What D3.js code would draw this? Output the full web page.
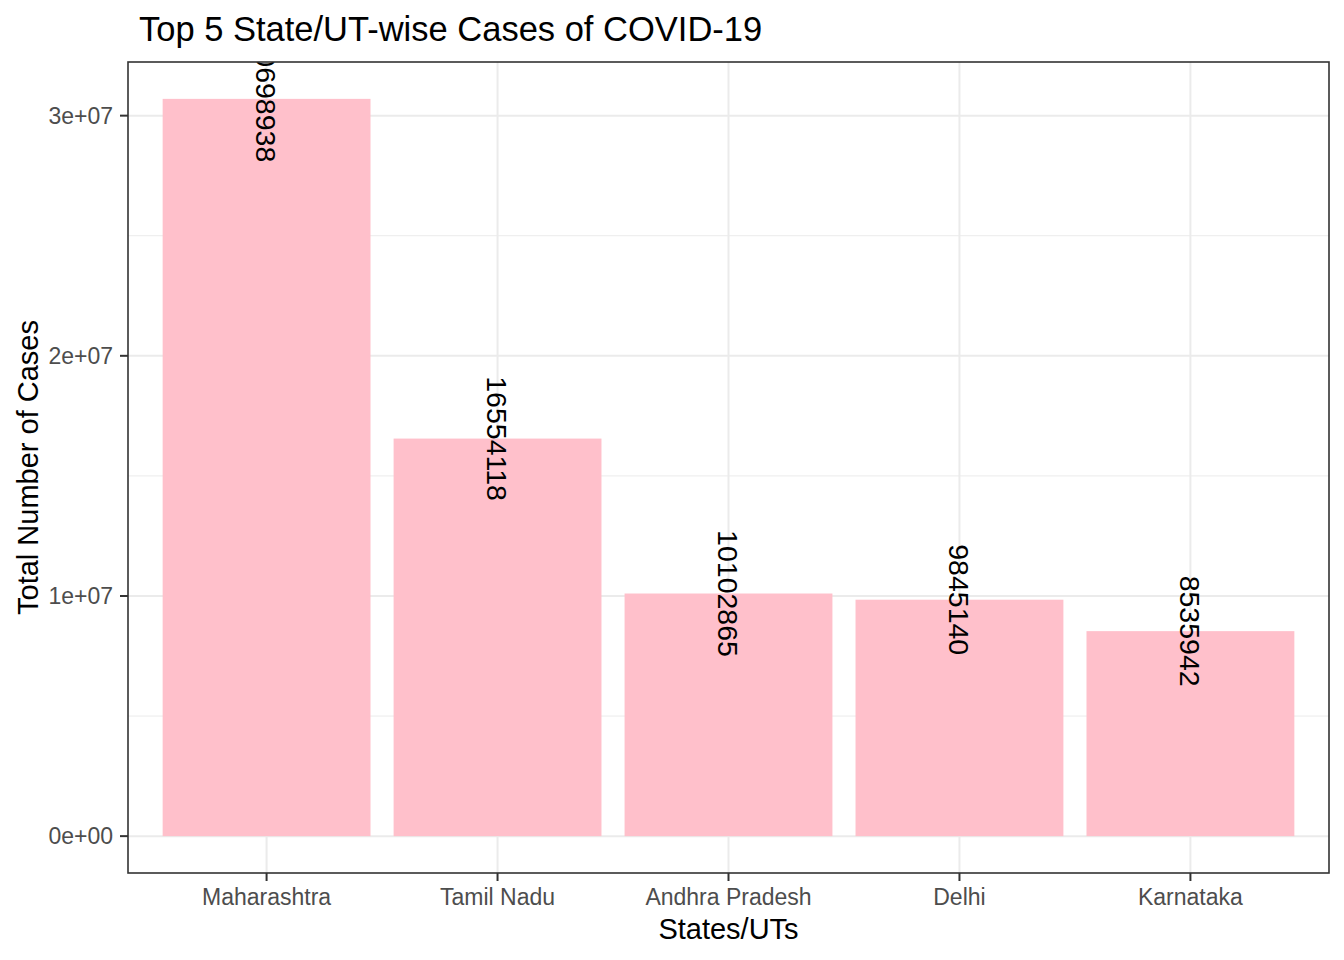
<!DOCTYPE html>
<meta charset="utf-8">
<script src="https://d3js.org/d3.v7.min.js"></script>
<style>
  body { margin: 0; background: #fff; font-family: "Liberation Sans", Arial, sans-serif; }
</style>
<div id="chart"></div>
<script>
// data
var states = ["Maharashtra", "Tamil Nadu", "Andhra Pradesh", "Delhi", "Karnataka"];
var cases = [30698938, 16554118, 10102865, 9845140, 8535942];
var yTicks = [0, 1e7, 2e7, 3e7];
var yTickLabels = ["0e+00", "1e+07", "2e+07", "3e+07"];
var yMinor = [0.5e7, 1.5e7, 2.5e7];

var W = 1344, H = 960;
var panel = {left: 128, right: 1329, top: 62, bottom: 873};

var svg = d3.select("#chart").append("svg")
  .attr("width", W).attr("height", H);

// ggplot style expansion: 5% on continuous, 0.6 units on discrete
var maxV = d3.max(cases);
var y = d3.scaleLinear()
  .domain([-0.05 * maxV, maxV * 1.05])
  .range([panel.bottom, panel.top]);

var x = d3.scaleBand()
  .domain(states)
  .range([panel.left, panel.right])
  .paddingInner(0.1)
  .paddingOuter(0.1 / 2 + 0.55);

// make outer padding match discrete expansion of 0.6
var step = (panel.right - panel.left) / (states.length - 1 + 1.2);
x.range([panel.left + 0.6 * step - step / 2, panel.right - 0.6 * step + step / 2])
  .paddingInner(0.1).paddingOuter(0.05);

svg.append("defs").append("clipPath").attr("id", "clip")
  .append("rect")
  .attr("x", panel.left).attr("y", panel.top)
  .attr("width", panel.right - panel.left)
  .attr("height", panel.bottom - panel.top);

var g = svg.append("g").attr("clip-path", "url(#clip)");

// minor grid
g.selectAll(".minor").data(yMinor).enter().append("line")
  .attr("x1", panel.left).attr("x2", panel.right)
  .attr("y1", function(d){ return y(d); }).attr("y2", function(d){ return y(d); })
  .attr("stroke", "#EBEBEB").attr("stroke-width", 1);

// major grid
g.selectAll(".major").data(yTicks).enter().append("line")
  .attr("x1", panel.left).attr("x2", panel.right)
  .attr("y1", function(d){ return y(d); }).attr("y2", function(d){ return y(d); })
  .attr("stroke", "#EBEBEB").attr("stroke-width", 2);

g.selectAll(".vmajor").data(states).enter().append("line")
  .attr("y1", panel.top).attr("y2", panel.bottom)
  .attr("x1", function(d){ return x(d) + x.bandwidth() / 2; })
  .attr("x2", function(d){ return x(d) + x.bandwidth() / 2; })
  .attr("stroke", "#EBEBEB").attr("stroke-width", 2);

// bars
g.selectAll(".bar").data(states).enter().append("rect")
  .attr("x", function(d){ return x(d); })
  .attr("width", x.bandwidth())
  .attr("y", function(d, i){ return y(cases[i]); })
  .attr("height", function(d, i){ return y(0) - y(cases[i]); })
  .attr("fill", "#FFC0CB");

// value labels, rotated, centred on bar top
g.selectAll(".lbl").data(states).enter().append("text")
  .attr("transform", function(d, i){
    return "translate(" + (x(d) + x.bandwidth() / 2) + "," + y(cases[i]) + ")rotate(90)";
  })
  .attr("text-anchor", "middle")
  .attr("dy", "0.36em")
  .style("font-size", "28.5px")
  .attr("fill", "#000")
  .text(function(d, i){ return cases[i]; });

// panel border
svg.append("rect")
  .attr("x", panel.left).attr("y", panel.top)
  .attr("width", panel.right - panel.left)
  .attr("height", panel.bottom - panel.top)
  .attr("fill", "none").attr("stroke", "#333333").attr("stroke-width", 1.6);

// y axis ticks + labels
var yAxis = svg.append("g");
yAxis.selectAll("line").data(yTicks).enter().append("line")
  .attr("x1", panel.left - 8).attr("x2", panel.left)
  .attr("y1", function(d){ return y(d); }).attr("y2", function(d){ return y(d); })
  .attr("stroke", "#333333").attr("stroke-width", 2);
yAxis.selectAll("text").data(yTicks).enter().append("text")
  .attr("x", panel.left - 15)
  .attr("y", function(d){ return y(d); })
  .attr("dy", "0.35em")
  .attr("text-anchor", "end")
  .style("font-size", "23px")
  .attr("fill", "#4D4D4D")
  .text(function(d, i){ return yTickLabels[i]; });

// x axis ticks + labels
var xAxis = svg.append("g");
xAxis.selectAll("line").data(states).enter().append("line")
  .attr("y1", panel.bottom).attr("y2", panel.bottom + 8)
  .attr("x1", function(d){ return x(d) + x.bandwidth() / 2; })
  .attr("x2", function(d){ return x(d) + x.bandwidth() / 2; })
  .attr("stroke", "#333333").attr("stroke-width", 2);
xAxis.selectAll("text").data(states).enter().append("text")
  .attr("x", function(d){ return x(d) + x.bandwidth() / 2; })
  .attr("y", 905)
  .attr("text-anchor", "middle")
  .style("font-size", "23px")
  .attr("fill", "#4D4D4D")
  .text(function(d){ return d; });

// axis titles
svg.append("text")
  .attr("x", (panel.left + panel.right) / 2).attr("y", 939)
  .attr("text-anchor", "middle")
  .style("font-size", "29px")
  .text("States/UTs");

svg.append("text")
  .attr("transform", "translate(38," + ((panel.top + panel.bottom) / 2) + ")rotate(-90)")
  .attr("text-anchor", "middle")
  .style("font-size", "29px")
  .text("Total Number of Cases");

// title
svg.append("text")
  .attr("x", 139).attr("y", 41)
  .style("font-size", "34.5px")
  .text("Top 5 State/UT-wise Cases of COVID-19");
</script>
